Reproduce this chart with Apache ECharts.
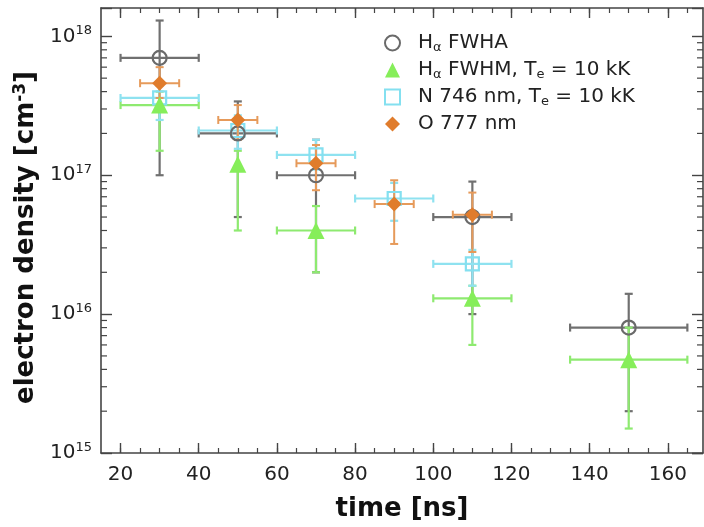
<!DOCTYPE html>
<html>
<head>
<meta charset="utf-8">
<script src="https://cdn.jsdelivr.net/npm/echarts@6/dist/echarts.min.js"></script>
<style>html,body{margin:0;padding:0;background:#fff}#c{width:704px;height:527px}</style>
</head>
<body>
<div id="c"></div>
<script>
// ---- data (time in ns, electron density in cm^-3) ----
const haFwhaT    = [30, 50, 70, 110, 150];
const haFwhaN    = [7.0e17, 2.0e17, 1.0e17, 5.0e16, 8.0e15];
const haFwhaNLo  = [1.0e17, 5.0e16, 2.0e16, 1.0e16, 2.0e15];
const haFwhaNHi  = [1.3e18, 3.4e17, 1.8e17, 9.0e16, 1.4e16];
const haFwhaTLo  = [20, 40, 60, 100, 135];
const haFwhaTHi  = [40, 60, 80, 120, 165];

const haFwhmT    = [30, 50, 70, 110, 150];
const haFwhmN    = [3.2e17, 1.2e17, 4.0e16, 1.3e16, 4.7e15];
const haFwhmNLo  = [1.5e17, 4.0e16, 2.0e16, 6.0e15, 1.5e15];
const haFwhmNHi  = [4.0e17, 1.5e17, 6.0e16, 1.6e16, 8.0e15];
const haFwhmTLo  = [20, 50, 60, 100, 135];
const haFwhmTHi  = [40, 50, 80, 120, 165];

const n746T      = [30, 50, 70, 90, 110];
const n746N      = [3.6e17, 2.1e17, 1.4e17, 6.8e16, 2.3e16];
const n746NLo    = [2.5e17, 1.55e17, 1.1e17, 4.7e16, 1.6e16];
const n746NHi    = [4.4e17, 2.7e17, 1.8e17, 8.8e16, 2.9e16];
const n746TLo    = [20, 40, 60, 80, 100];
const n746THi    = [40, 60, 80, 100, 120];

const o777T      = [30, 50, 70, 90, 110];
const o777N      = [4.6e17, 2.5e17, 1.22e17, 6.2e16, 5.2e16];
const o777NLo    = [3.6e17, 1.8e17, 7.8e16, 3.2e16, 2.8e16];
const o777NHi    = [6.0e17, 3.2e17, 1.65e17, 9.2e16, 7.5e16];
const o777TLo    = [25, 45, 65, 85, 105];
const o777THi    = [35, 55, 75, 95, 115];

const seriesNames = ['Hα FWHA', 'Hα FWHM, Te = 10 kK', 'N 746 nm, Te = 10 kK', 'O 777 nm'];
const legendRich  = ['H{sub|α} FWHA', 'H{sub|α} FWHM, T{sub|e} = 10 kK', 'N 746 nm, T{sub|e} = 10 kK', 'O 777 nm'];

const xMajorTicks = [20, 40, 60, 80, 100, 120, 140, 160];
const xMinorTicks = [20, 25, 30, 35, 40, 45, 50, 55, 60, 65, 70, 75, 80, 85, 90, 95, 100, 105, 110, 115, 120, 125, 130, 135, 140, 145, 150, 155, 160, 165];
const xMin = 15, xMax = 169;
const yMin = 1e15, yMax = 1.6e18;

const yMinorTicks = [];
for (let k = 15; k <= 18; k++) {
  for (let m = 2; m <= 9; m++) {
    const v = m * Math.pow(10, k);
    if (v < yMax) yMinorTicks.push(v);
  }
}

const FONT = 'DejaVu Sans';
const AX = '#444';

function rows(t, n, tlo, thi, nlo, nhi) {
  return t.map((v, i) => [v, n[i], tlo[i], thi[i], nlo[i], nhi[i]]);
}
function pts(t, n) { return t.map((v, i) => [v, n[i]]); }

function errRender(color, width) {
  return function (params, api) {
    const x = api.value(0), y = api.value(1);
    const xl = api.value(2), xh = api.value(3), yl = api.value(4), yh = api.value(5);
    const c = api.coord([x, y]);
    const pl = api.coord([xl, y]), ph = api.coord([xh, y]);
    const pb = api.coord([x, yl]), pt = api.coord([x, yh]);
    const cap = 4;
    const st = { stroke: color, lineWidth: width, fill: null };
    const ch = [
      { type: 'line', shape: { x1: c[0], y1: pb[1], x2: c[0], y2: pt[1] }, style: st },
      { type: 'line', shape: { x1: c[0] - cap, y1: pb[1], x2: c[0] + cap, y2: pb[1] }, style: st },
      { type: 'line', shape: { x1: c[0] - cap, y1: pt[1], x2: c[0] + cap, y2: pt[1] }, style: st }
    ];
    if (xh > xl) {
      ch.push({ type: 'line', shape: { x1: pl[0], y1: c[1], x2: ph[0], y2: c[1] }, style: st });
      ch.push({ type: 'line', shape: { x1: pl[0], y1: c[1] - cap, x2: pl[0], y2: c[1] + cap }, style: st });
      ch.push({ type: 'line', shape: { x1: ph[0], y1: c[1] - cap, x2: ph[0], y2: c[1] + cap }, style: st });
    }
    return { type: 'group', children: ch };
  };
}

function isPow10(v) {
  const l = Math.log10(v);
  return Math.abs(l - Math.round(l)) < 1e-6;
}

const chart = echarts.init(document.getElementById('c'), null, { renderer: 'canvas' });

const xBase = { type: 'value', min: xMin, max: xMax, gridIndex: 0, splitLine: { show: false } };

chart.setOption({
  animation: false,
  backgroundColor: '#fff',
  textStyle: { fontFamily: FONT },
  grid: { left: 101, right: 1, top: 8, bottom: 73, containLabel: false },
  legend: {
    orient: 'vertical',
    left: 379,
    top: 28,
    itemWidth: 15,
    itemHeight: 15,
    itemGap: 6,
    data: seriesNames,
    formatter: function (name) { return legendRich[seriesNames.indexOf(name)]; },
    textStyle: {
      fontFamily: FONT, fontSize: 20, color: '#222', padding: [0, 0, 0, 13],
      rich: { sub: { fontFamily: FONT, fontSize: 13, color: '#222', padding: [9, 0, 0, 0] } }
    }
  },
  xAxis: [
    Object.assign({}, xBase, {
      position: 'bottom',
      name: 'time [ns]', nameLocation: 'middle', nameGap: 43,
      nameTextStyle: { fontFamily: FONT, fontSize: 26, fontWeight: 'bold', color: '#111' },
      axisLine: { show: true, onZero: false, lineStyle: { color: AX, width: 1.6 } },
      axisTick: { show: true, inside: true, length: 10, customValues: xMajorTicks, lineStyle: { color: AX, width: 1.4 } },
      axisLabel: { show: true, customValues: xMajorTicks, margin: 12, fontFamily: FONT, fontSize: 20, color: '#222' }
    }),
    Object.assign({}, xBase, {
      position: 'bottom',
      axisLine: { show: false, onZero: false },
      axisTick: { show: true, inside: true, length: 5, customValues: xMinorTicks, lineStyle: { color: AX, width: 1.2 } },
      axisLabel: { show: false }
    }),
    Object.assign({}, xBase, {
      position: 'top',
      axisLine: { show: true, onZero: false, lineStyle: { color: AX, width: 1.6 } },
      axisTick: { show: true, inside: true, length: 10, customValues: xMajorTicks, lineStyle: { color: AX, width: 1.4 } },
      axisLabel: { show: false }
    }),
    Object.assign({}, xBase, {
      position: 'top',
      axisLine: { show: false, onZero: false },
      axisTick: { show: true, inside: true, length: 5, customValues: xMinorTicks, lineStyle: { color: AX, width: 1.2 } },
      axisLabel: { show: false }
    })
  ],
  yAxis: [
    {
      type: 'log', logBase: 10, min: yMin, max: yMax, position: 'left', gridIndex: 0,
      name: 'electron density [cm{sup|-3}]', nameLocation: 'middle', nameGap: 56,
      nameTextStyle: {
        fontFamily: FONT, fontSize: 26, fontWeight: 'bold', color: '#111', padding: [0, 14, 0, 0],
        rich: { sup: { fontFamily: FONT, fontSize: 17, fontWeight: 'bold', color: '#111', padding: [0, 0, 12, 0] } }
      },
      splitLine: { show: false },
      axisLine: { show: true, onZero: false, lineStyle: { color: AX, width: 1.6 } },
      axisTick: { show: true, inside: true, length: 11, lineStyle: { color: AX, width: 1.4 } },
      axisLabel: {
        show: true, margin: 9, fontFamily: FONT, fontSize: 20, color: '#222',
        formatter: function (v) {
          if (!isPow10(v)) return '';
          return '{b|10}{s|' + Math.round(Math.log10(v)) + '}';
        },
        rich: {
          b: { fontFamily: FONT, fontSize: 20, color: '#222' },
          s: { fontFamily: FONT, fontSize: 13, color: '#222', padding: [0, 0, 11, 0] }
        }
      }
    },
    {
      type: 'log', logBase: 10, min: yMin, max: yMax, position: 'right', gridIndex: 0,
      splitLine: { show: false },
      axisLine: { show: true, onZero: false, lineStyle: { color: AX, width: 1.6 } },
      axisTick: { show: true, inside: true, length: 11, lineStyle: { color: AX, width: 1.4 } },
      axisLabel: { show: false }
    }
  ],
  series: [
    {
      name: 'yMinorTicks', type: 'custom', xAxisIndex: 0, yAxisIndex: 0, silent: true, z: 5,
      data: yMinorTicks.map(v => [xMin, v]),
      encode: { x: 0, y: 1 },
      renderItem: function (params, api) {
        const cs = params.coordSys;
        const y = api.coord([xMin, api.value(1)])[1];
        const st = { stroke: AX, lineWidth: 1.2 };
        return { type: 'group', children: [
          { type: 'line', shape: { x1: cs.x, y1: y, x2: cs.x + 6, y2: y }, style: st },
          { type: 'line', shape: { x1: cs.x + cs.width, y1: y, x2: cs.x + cs.width - 6, y2: y }, style: st }
        ] };
      }
    },
    { name: 'errHaFwha', type: 'custom', z: 2, silent: true, data: rows(haFwhaT, haFwhaN, haFwhaTLo, haFwhaTHi, haFwhaNLo, haFwhaNHi), encode: { x: 0, y: 1 }, renderItem: errRender('#707070', 2.2) },
    { name: 'errHaFwhm', type: 'custom', z: 2, silent: true, data: rows(haFwhmT, haFwhmN, haFwhmTLo, haFwhmTHi, haFwhmNLo, haFwhmNHi), encode: { x: 0, y: 1 }, renderItem: errRender('#8eea70', 2.2) },
    { name: 'errN746', type: 'custom', z: 2, silent: true, data: rows(n746T, n746N, n746TLo, n746THi, n746NLo, n746NHi), encode: { x: 0, y: 1 }, renderItem: errRender('#8fe2f0', 2.2) },
    { name: 'errO777', type: 'custom', z: 2, silent: true, data: rows(o777T, o777N, o777TLo, o777THi, o777NLo, o777NHi), encode: { x: 0, y: 1 }, renderItem: errRender('#e69a5a', 2.0) },
    {
      name: seriesNames[2], type: 'scatter', z: 3, symbol: 'rect', symbolSize: 13,
      data: pts(n746T, n746N),
      itemStyle: { color: 'rgba(255,255,255,0)', borderColor: '#84e0f0', borderWidth: 2.2, opacity: 1 }
    },
    {
      name: seriesNames[0], type: 'scatter', z: 3, symbol: 'circle', symbolSize: 14,
      data: pts(haFwhaT, haFwhaN),
      itemStyle: { color: 'rgba(255,255,255,0)', borderColor: '#6a6a6a', borderWidth: 2.2, opacity: 1 }
    },
    {
      name: seriesNames[1], type: 'scatter', z: 3, symbol: 'triangle', symbolSize: 17,
      data: pts(haFwhmT, haFwhmN),
      itemStyle: { color: '#86ee5a', opacity: 1 }
    },
    {
      name: seriesNames[3], type: 'scatter', z: 3, symbol: 'diamond', symbolSize: 15,
      data: pts(o777T, o777N),
      itemStyle: { color: '#e07c2c', opacity: 1 }
    }
  ]
});
</script>
</body>
</html>
